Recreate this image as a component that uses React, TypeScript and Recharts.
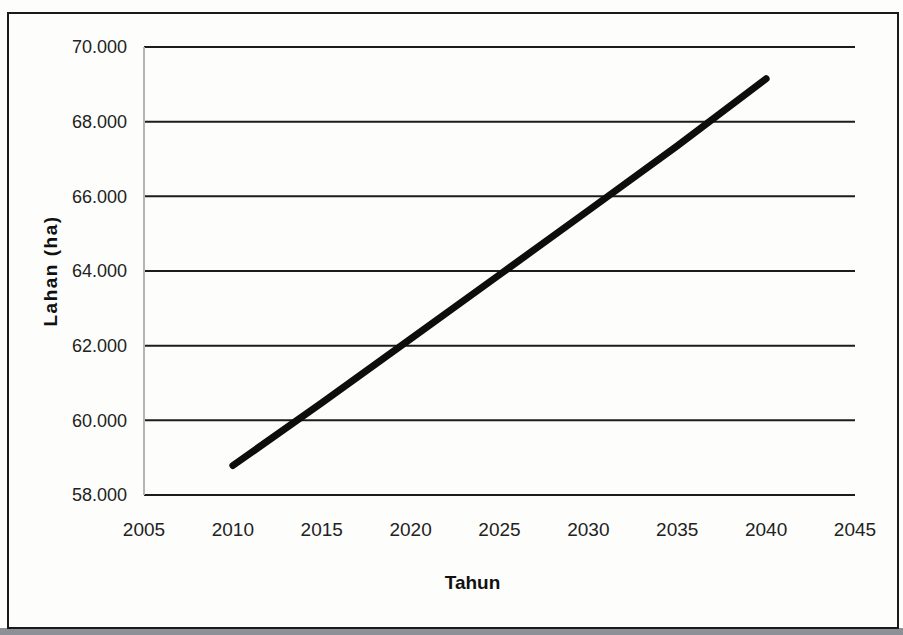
import React from 'react';
import { LineChart, Line, XAxis, YAxis, CartesianGrid } from 'recharts';

const years = [2010, 2015, 2020, 2025, 2030, 2035, 2040];
const lahan = [58790, 60470, 62180, 63900, 65620, 67350, 69150];
const xTicks = [2005, 2010, 2015, 2020, 2025, 2030, 2035, 2040, 2045];
const yTicks = [58000, 60000, 62000, 64000, 66000, 68000, 70000];
const yTickLabels = ['58.000', '60.000', '62.000', '64.000', '66.000', '68.000', '70.000'];
const xTitle = 'Tahun';
const yTitle = 'Lahan (ha)';

const data = years.map((y, i) => ({ tahun: y, lahan: lahan[i] }));

const FONT = '"Liberation Sans", Arial, sans-serif';

export default function App() {
  return (
    <div style={{ position: 'absolute', left: 0, top: 0, width: 903, height: 635, background: '#fdfdfb', overflow: 'hidden' }}>
      <div style={{ position: 'absolute', left: 0, top: 628, width: 903, height: 7, background: '#8d9196' }} />
      <div style={{ position: 'absolute', left: 7, top: 12, width: 888, height: 613, border: '2px solid #1a1a1a', boxSizing: 'content-box' }} />
      <div style={{ position: 'absolute', left: 0, top: 0 }}>
        <LineChart width={903} height={635} data={data} margin={{ top: 47, right: 48, bottom: 40, left: 0 }}>
          <CartesianGrid vertical={false} stroke="#1c1c1c" strokeWidth={2} />
          <XAxis
            dataKey="tahun"
            type="number"
            domain={[2005, 2045]}
            ticks={xTicks}
            axisLine={false}
            tickLine={false}
            tickSize={0}
            tickMargin={28}
            height={100}
            tick={{ fontSize: 19, fill: '#222', fontFamily: FONT }}
            label={{ value: xTitle, position: 'insideBottom', offset: 6, dx: -27, style: { fontSize: 19, fontWeight: 700, fill: '#111', fontFamily: FONT } }}
          />
          <YAxis
            type="number"
            domain={[58000, 70000]}
            ticks={yTicks}
            width={144}
            axisLine={{ stroke: '#b5b5b5', strokeWidth: 2 }}
            tickLine={false}
            tickSize={0}
            tickMargin={17}
            tickFormatter={(v: number) => yTickLabels[yTicks.indexOf(v)] ?? String(v)}
            tick={{ fontSize: 18, fill: '#222', fontFamily: FONT }}
            label={{ value: yTitle, angle: -90, position: 'insideLeft', offset: 50, dy: 0, style: { textAnchor: 'middle', fontSize: 19, fontWeight: 700, fill: '#111', fontFamily: FONT, letterSpacing: 1.5 } }}
          />
          <Line
            dataKey="lahan"
            type="linear"
            stroke="#0d0d0d"
            strokeWidth={7}
            strokeLinecap="round"
            dot={false}
            activeDot={false}
            isAnimationActive={false}
          />
        </LineChart>
      </div>
    </div>
  );
}
